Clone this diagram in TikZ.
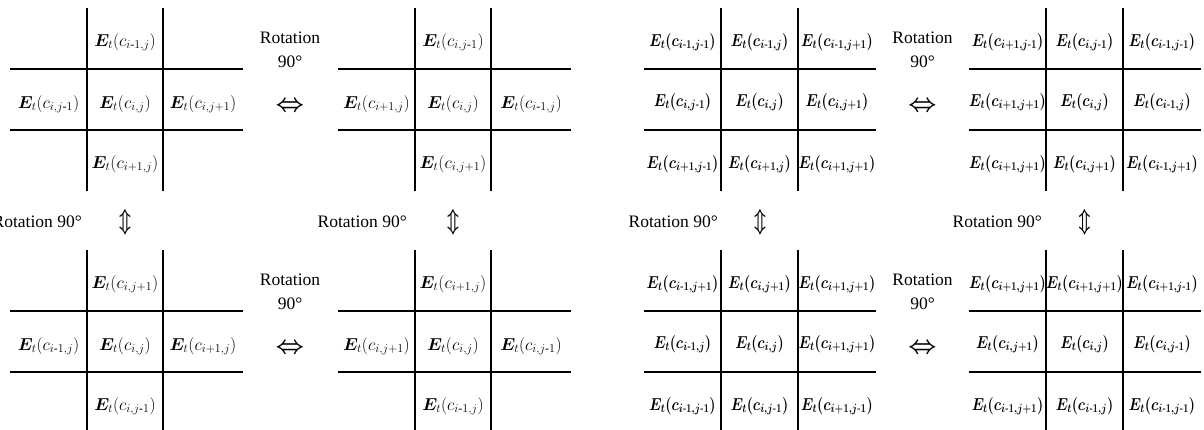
\documentclass[tikz,border=0pt]{standalone}
\usepackage{fontspec}
\setmainfont{Liberation Serif}
\usepackage{amsmath,bm}
\DeclareMathSizes{16.5}{16.5}{12}{9}
\DeclareMathSizes{16}{16}{12.5}{9}
\newcommand{\hy}{\text{-}}
\newcommand{\Ec}[1]{$\boldsymbol{E}_{t}(c_{#1})$}
\newcommand{\Eb}[1]{\scalebox{0.82}[1]{\boldmath$E_{t}(c_{#1})$}}
\newcommand{\LRarr}{\scalebox{1}[1]{\boldmath$\Leftrightarrow$}}
\newcommand{\UDarr}{\scalebox{0.68}[1]{\boldmath$\Updownarrow$}}
\tikzset{
  lab/.style={font=\fontsize{16.5}{18}\selectfont, inner sep=0pt},
  blab/.style={font=\fontsize{16}{18}\selectfont, inner sep=0pt},
  vln/.style={line width=1.6pt},
  vlnb/.style={line width=2.4pt},
  hln/.style={line width=2.4pt},
  rot/.style={font=\fontsize{17.5}{24}\selectfont, align=center, inner sep=0pt},
  harr/.style={font=\fontsize{36}{36}\selectfont, inner sep=0pt},
  varr/.style={font=\fontsize{38}{38}\selectfont, inner sep=0pt}
}
\begin{document}
\begin{tikzpicture}[x=1pt,y=-1pt]
\useasboundingbox (0,0) rectangle (1204,430);

% ---------- left half: cross grids ----------
% Grid A
\begin{scope}[shift={(0,0)}]
\draw[vln] (87,8) -- (87,191) (163,8) -- (163,191);
\draw[hln] (10,69) -- (243,69) (10,130) -- (243,130);
\node[lab] (A-t) at (125,42) {\Ec{i\hy1,j}};
\node[lab] (A-l) at (48.5,104) {\Ec{i,j\hy1}};
\node[lab] (A-c) at (125,104) {\Ec{i,j}};
\node[lab] (A-r) at (203,104) {\Ec{i,j+1}};
\node[lab] (A-b) at (125,164) {\Ec{i+1,j}};
\end{scope}
% Grid B
\begin{scope}[shift={(328,0)}]
\draw[vln] (87,8) -- (87,191) (163,8) -- (163,191);
\draw[hln] (10,69) -- (243,69) (10,130) -- (243,130);
\node[lab] (B-t) at (125,42) {\Ec{i,j\hy1}};
\node[lab] (B-l) at (48.5,104) {\Ec{i+1,j}};
\node[lab] (B-c) at (125,104) {\Ec{i,j}};
\node[lab] (B-r) at (203,104) {\Ec{i\hy1,j}};
\node[lab] (B-b) at (125,164) {\Ec{i,j+1}};
\end{scope}
% Grid C
\begin{scope}[shift={(0,242)}]
\draw[vln] (87,8) -- (87,191) (163,8) -- (163,191);
\draw[hln] (10,69) -- (243,69) (10,130) -- (243,130);
\node[lab] (C-t) at (125,42) {\Ec{i,j+1}};
\node[lab] (C-l) at (48.5,104) {\Ec{i\hy1,j}};
\node[lab] (C-c) at (125,104) {\Ec{i,j}};
\node[lab] (C-r) at (203,104) {\Ec{i+1,j}};
\node[lab] (C-b) at (125,164) {\Ec{i,j\hy1}};
\end{scope}
% Grid D
\begin{scope}[shift={(328,242)}]
\draw[vln] (87,8) -- (87,191) (163,8) -- (163,191);
\draw[hln] (10,69) -- (243,69) (10,130) -- (243,130);
\node[lab] (D-t) at (125,42) {\Ec{i+1,j}};
\node[lab] (D-l) at (48.5,104) {\Ec{i,j+1}};
\node[lab] (D-c) at (125,104) {\Ec{i,j}};
\node[lab] (D-r) at (203,104) {\Ec{i,j\hy1}};
\node[lab] (D-b) at (125,164) {\Ec{i\hy1,j}};
\end{scope}

% ---------- right half: full grids ----------
% Grid E
\begin{scope}[shift={(0,0)}]
\draw[vln] (721,8) -- (721,191);
\draw[vlnb] (798,8) -- (798,191);
\draw[hln] (644,69) -- (876,69) (644,130) -- (876,130);
\node[blab] (E-11) at (682.5,42) {\Eb{i\hy1,j\hy1}};
\node[blab] (E-12) at (759.5,42) {\Eb{i\hy1,j}};
\node[blab] (E-13) at (837,42) {\Eb{i\hy1,j+1}};
\node[blab] (E-21) at (682.5,102) {\Eb{i,j\hy1}};
\node[blab] (E-22) at (759.5,102) {\Eb{i,j}};
\node[blab] (E-23) at (837,102) {\Eb{i,j+1}};
\node[blab] (E-31) at (682.5,164) {\Eb{i+1,j\hy1}};
\node[blab] (E-32) at (759.5,164) {\Eb{i+1,j}};
\node[blab] (E-33) at (837,164) {\Eb{i+1,j+1}};
\end{scope}
% Grid F
\begin{scope}[shift={(325,0)}]
\draw[vln] (721,8) -- (721,191);
\draw[vlnb] (798,8) -- (798,191);
\draw[hln] (644,69) -- (876,69) (644,130) -- (876,130);
\node[blab] (F-11) at (682.5,42) {\Eb{i+1,j\hy1}};
\node[blab] (F-12) at (759.5,42) {\Eb{i,j\hy1}};
\node[blab] (F-13) at (837,42) {\Eb{i\hy1,j\hy1}};
\node[blab] (F-21) at (682.5,102) {\Eb{i+1,j+1}};
\node[blab] (F-22) at (759.5,102) {\Eb{i,j}};
\node[blab] (F-23) at (837,102) {\Eb{i\hy1,j}};
\node[blab] (F-31) at (682.5,164) {\Eb{i+1,j+1}};
\node[blab] (F-32) at (759.5,164) {\Eb{i,j+1}};
\node[blab] (F-33) at (837,164) {\Eb{i\hy1,j+1}};
\end{scope}
% Grid G
\begin{scope}[shift={(0,242)}]
\draw[vln] (721,8) -- (721,191);
\draw[vlnb] (798,8) -- (798,191);
\draw[hln] (644,69) -- (876,69) (644,130) -- (876,130);
\node[blab] (G-11) at (682.5,42) {\Eb{i\hy1,j+1}};
\node[blab] (G-12) at (759.5,42) {\Eb{i,j+1}};
\node[blab] (G-13) at (837,42) {\Eb{i+1,j+1}};
\node[blab] (G-21) at (682.5,102) {\Eb{i\hy1,j}};
\node[blab] (G-22) at (759.5,102) {\Eb{i,j}};
\node[blab] (G-23) at (837,102) {\Eb{i+1,j+1}};
\node[blab] (G-31) at (682.5,164) {\Eb{i\hy1,j\hy1}};
\node[blab] (G-32) at (759.5,164) {\Eb{i,j\hy1}};
\node[blab] (G-33) at (837,164) {\Eb{i+1,j\hy1}};
\end{scope}
% Grid H
\begin{scope}[shift={(325,242)}]
\draw[vln] (721,8) -- (721,191);
\draw[vlnb] (798,8) -- (798,191);
\draw[hln] (644,69) -- (876,69) (644,130) -- (876,130);
\node[blab] (H-11) at (682.5,42) {\Eb{i+1,j+1}};
\node[blab] (H-12) at (759.5,42) {\Eb{i+1,j+1}};
\node[blab] (H-13) at (837,42) {\Eb{i+1,j\hy1}};
\node[blab] (H-21) at (682.5,102) {\Eb{i,j+1}};
\node[blab] (H-22) at (759.5,102) {\Eb{i,j}};
\node[blab] (H-23) at (837,102) {\Eb{i,j\hy1}};
\node[blab] (H-31) at (682.5,164) {\Eb{i\hy1,j+1}};
\node[blab] (H-32) at (759.5,164) {\Eb{i\hy1,j}};
\node[blab] (H-33) at (837,164) {\Eb{i\hy1,j\hy1}};
\end{scope}

% ---------- horizontal rotation labels ----------
\node[rot] (r1-txt) at (290,50) {Rotation\\90°};
\node[harr] (r1-arr) at (290,107) {\LRarr};
\node[rot] (r2-txt) at (290,292) {Rotation\\90°};
\node[harr] (r2-arr) at (290,349) {\LRarr};
\node[rot] (r3-txt) at (922.5,50) {Rotation\\90°};
\node[harr] (r3-arr) at (922.5,107) {\LRarr};
\node[rot] (r4-txt) at (922.5,292) {Rotation\\90°};
\node[harr] (r4-arr) at (922.5,349) {\LRarr};

% ---------- vertical rotation labels ----------
\node[rot, anchor=east] (v1-txt) at (82,222) {Rotation 90°};
\node[varr] (v1-arr) at (125,222) {\UDarr};
\node[rot, anchor=east] (v2-txt) at (407,222) {Rotation 90°};
\node[varr] (v2-arr) at (453,222) {\UDarr};
\node[rot, anchor=east] (v3-txt) at (718,222) {Rotation 90°};
\node[varr] (v3-arr) at (760,222) {\UDarr};
\node[rot, anchor=east] (v4-txt) at (1042,222) {Rotation 90°};
\node[varr] (v4-arr) at (1084.5,222) {\UDarr};
\end{tikzpicture}
\end{document}
